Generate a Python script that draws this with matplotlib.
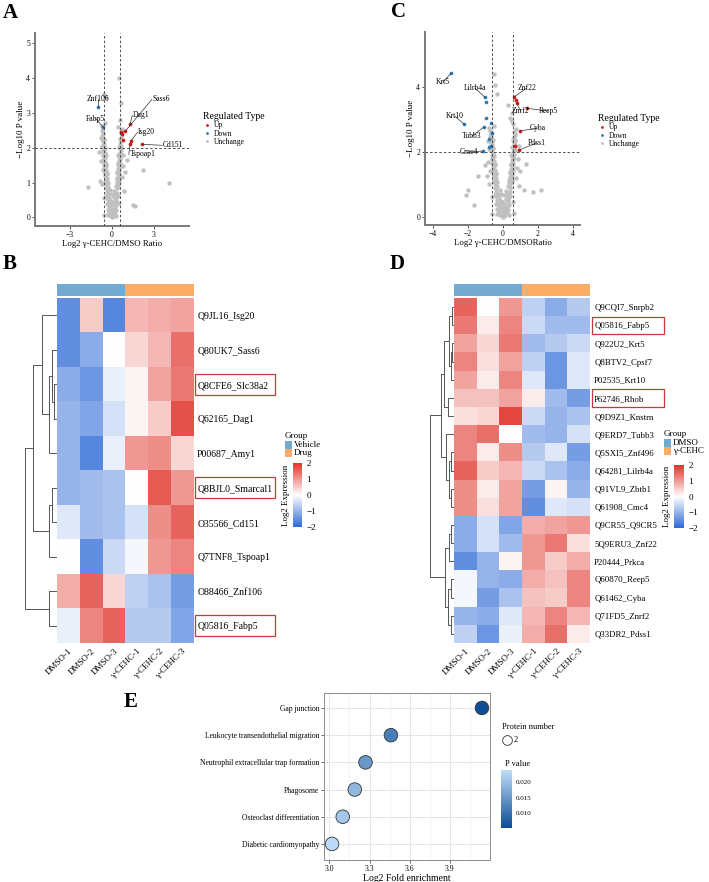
import numpy as np
import matplotlib
matplotlib.use('Agg')
import matplotlib.pyplot as plt
from matplotlib.colors import LinearSegmentedColormap, ListedColormap
from matplotlib.patches import Rectangle
from matplotlib.lines import Line2D
import matplotlib.cm as cm

plt.rcParams['font.family'] = ['Liberation Serif', 'DejaVu Serif']

# ---------------- data: volcano A ----------------
A_gray = [(0.00,0.01),(0.06,0.04),(-0.06,0.05),(0.12,0.09),(-0.11,0.10),(0.02,0.13),(0.17,0.17),(-0.16,0.18),
          (0.08,0.22),(-0.04,0.25),(0.21,0.27),(-0.21,0.29),(0.13,0.33),(-0.12,0.36),(0.25,0.39),(-0.26,0.41),
          (0.03,0.44),(0.29,0.48),(-0.30,0.50),(0.18,0.52),(-0.19,0.55),(0.33,0.58),(-0.33,0.60),(0.08,0.62),
          (0.24,0.66),(-0.25,0.68),(0.36,0.71),(-0.37,0.73),(0.15,0.76),(-0.14,0.78),(0.30,0.05),(-0.30,0.07),
          (-0.40,0.84),(-0.28,0.88),(-0.43,0.95),(-0.32,1.00),(-0.46,1.07),(-0.35,1.12),(-0.49,1.19),(-0.38,1.24),
          (-0.52,1.31),(-0.41,1.36),(-0.54,1.43),(-0.44,1.48),(-0.57,1.55),(-0.47,1.60),(-0.59,1.67),(-0.50,1.72),
          (-0.61,1.79),(-0.53,1.84),(-0.63,1.91),(-0.55,1.96),(-0.65,2.03),(-0.58,2.10),(-0.66,2.18),(-0.60,2.26),
          (-0.68,2.34),(-0.63,2.42),(-0.70,2.50),
          (0.40,0.86),(0.29,0.90),(0.44,0.97),(0.33,1.02),(0.47,1.09),(0.36,1.14),(0.50,1.21),(0.39,1.26),
          (0.53,1.33),(0.42,1.38),(0.55,1.45),(0.45,1.50),(0.58,1.57),(0.48,1.62),(0.60,1.69),(0.51,1.74),
          (0.62,1.81),(0.54,1.86),(0.64,1.93),(0.56,1.98),(0.66,2.05),(0.59,2.12),(0.67,2.20),(0.61,2.28),
          (0.69,2.36),(0.64,2.45),
          (-0.36,0.82),(-0.47,1.02),(-0.51,1.25),(-0.55,1.50),(-0.58,1.72),(-0.62,1.95),(-0.64,2.20),(-0.66,2.40),
          (-0.33,1.05),(-0.37,1.28),(-0.42,1.52),(-0.46,1.78),(-0.50,2.00),(-0.55,2.22),(0.36,0.84),(0.47,1.04),
          (0.51,1.28),(0.55,1.52),(0.58,1.75),(0.62,1.98),(0.64,2.22),(0.66,2.42),(0.33,1.07),(0.37,1.30),
          (0.42,1.55),(0.46,1.80),(0.50,2.02),(0.55,2.25),(0.10,0.05),(-0.15,0.06),(0.20,0.10),(-0.22,0.12),
          (0.28,0.20),(-0.28,0.22),(0.05,0.38),(-0.08,0.46),(0.32,0.35),(-0.34,0.38),(0.20,0.62),(-0.10,0.66),
          (0.40,0.60),(-0.42,0.62),
          (-0.72,0.95),(-0.66,1.35),(-0.78,1.62),(-0.74,2.05),(-0.80,2.28),(0.70,1.15),(0.76,1.48),(0.80,1.78),
          (0.72,2.55),(-0.72,2.62),(0.58,2.80),(-0.48,2.70),(0.45,2.60),(-0.55,0.55),(0.52,0.40),(-0.85,1.05),
          (0.88,0.75),(0.95,1.30),(1.05,1.65),(-0.95,1.88),
          (0.50,4.00),(-0.57,3.56),(-0.43,3.47),(-1.70,0.87),(2.20,1.35),(4.10,1.00),(1.50,0.35),(1.65,0.33),
          (-0.60,0.08),(0.62,3.30)]
A_up = [(0.64,2.44),(0.93,2.47),(1.29,2.67),(0.79,2.21),(1.36,2.20),(1.30,2.12),(2.14,2.10),(0.70,2.40)]
A_down = [(-1.00,3.17),(-0.64,2.59)]
# name, point, text position
A_labels = [('Sass6', (0.93,2.47), (2.90,3.39), 'left'),
            ('Dag1', (1.29,2.67), (1.50,2.93), 'left'),
            ('Isg20', (1.36,2.20), (1.86,2.44), 'left'),
            ('Cd151', (2.14,2.10), (3.64,2.07), 'left'),
            ('Tspoap1', (1.30,2.12), (1.25,1.81), 'left'),
            ('Znf106', (-1.00,3.17), (-1.00,3.39), 'center'),
            ('Fabp5', (-0.64,2.59), (-1.16,2.84), 'center')]

# ---------------- data: volcano C ----------------
C_gray = [(0.00,0.01),(0.07,0.04),(-0.07,0.05),(0.14,0.09),(-0.13,0.10),(0.02,0.14),(0.20,0.18),(-0.19,0.19),
          (0.09,0.23),(-0.05,0.27),(0.24,0.29),(-0.24,0.31),(0.15,0.35),(-0.14,0.38),(0.28,0.42),(-0.29,0.44),
          (0.03,0.47),(0.32,0.51),(-0.33,0.53),(0.20,0.56),(-0.21,0.59),(0.36,0.62),(-0.36,0.64),(0.09,0.66),
          (0.27,0.70),(-0.28,0.72),(0.39,0.76),(-0.40,0.78),(0.17,0.81),(-0.16,0.83),(0.33,0.06),(-0.33,0.08),
          (-0.43,0.90),(-0.31,0.94),(-0.46,1.01),(-0.35,1.07),(-0.49,1.14),(-0.38,1.20),(-0.52,1.27),(-0.41,1.33),
          (-0.55,1.40),(-0.44,1.46),(-0.57,1.53),(-0.47,1.59),(-0.60,1.66),(-0.50,1.72),(-0.62,1.79),(-0.53,1.85),
          (-0.64,1.92),(-0.56,1.98),(-0.66,2.05),(-0.58,2.11),(-0.68,2.18),(-0.61,2.25),(-0.69,2.33),(-0.63,2.41),
          (-0.71,2.49),(-0.66,2.57),(-0.73,2.65),
          (0.43,0.92),(0.32,0.96),(0.47,1.03),(0.36,1.09),(0.50,1.16),(0.39,1.22),(0.53,1.29),(0.42,1.35),
          (0.56,1.42),(0.45,1.48),(0.58,1.55),(0.48,1.61),(0.61,1.68),(0.51,1.74),(0.63,1.81),(0.54,1.87),
          (0.65,1.94),(0.57,2.00),(0.67,2.07),(0.59,2.14),(0.69,2.21),(0.62,2.29),(0.70,2.37),(0.64,2.45),
          (0.71,2.53),(0.66,2.61),
          (-0.39,0.88),(-0.50,1.08),(-0.54,1.32),(-0.58,1.58),(-0.61,1.82),(-0.65,2.08),(-0.67,2.30),(-0.69,2.52),
          (-0.36,1.12),(-0.40,1.36),(-0.45,1.62),(-0.49,1.88),(-0.53,2.12),(-0.58,2.36),(0.39,0.90),(0.50,1.10),
          (0.54,1.35),(0.58,1.60),(0.61,1.85),(0.65,2.10),(0.67,2.33),(0.69,2.55),(0.36,1.14),(0.40,1.38),
          (0.45,1.64),(0.49,1.90),(0.53,2.15),(0.58,2.38),(0.11,0.06),(-0.16,0.07),(0.22,0.11),(-0.24,0.13),
          (0.31,0.22),(-0.31,0.24),(0.06,0.41),(-0.09,0.50),(0.35,0.38),(-0.37,0.41),(0.22,0.67),(-0.11,0.71),
          (0.43,0.65),(-0.45,0.67),
          (-0.78,1.00),(-0.70,1.40),(-0.84,1.70),(-0.80,2.10),(-0.86,2.35),(0.76,1.20),(0.82,1.52),(0.86,1.80),
          (0.75,2.70),(-0.78,2.75),(0.60,2.85),(0.50,2.95),(-0.50,2.80),(-0.60,0.60),(0.56,0.45),(-0.90,1.25),
          (0.92,0.95),(1.00,1.40),(0.90,2.20),(-1.00,1.60),
          (-0.50,4.40),(-0.45,4.06),(0.50,3.20),(0.30,3.45),(0.40,3.05),(-0.30,3.80),(-1.42,1.26),(-2.00,0.83),
          (-2.10,0.68),(-1.65,0.37),(1.30,1.63),(1.20,0.83),(1.70,0.77),(2.16,0.83),(-0.62,0.10),(0.65,0.12)]
C_up = [(0.62,3.69),(0.74,3.60),(0.80,3.50),(1.36,3.35),(1.00,2.65),(0.93,2.06),(0.68,2.20)]
C_down = [(-2.95,4.43),(-1.02,3.69),(-0.97,3.54),(-0.97,3.05),(-2.20,2.86),(-1.08,2.77),(-0.63,2.58),
          (-0.78,2.40),(-0.80,2.15),(-0.68,2.18),(-1.14,2.03),(-0.66,2.90)]
C_labels = [('Krt5', (-2.95,4.43), (-3.41,4.15), 'center'),
            ('Lilrb4a', (-1.02,3.69), (-1.59,3.97), 'center'),
            ('Krt10', (-2.20,2.86), (-2.73,3.10), 'center'),
            ('Tubb3', (-1.08,2.77), (-1.76,2.49), 'center'),
            ('Cmc4', (-1.14,2.03), (-1.93,2.00), 'center'),
            ('Znf22', (0.62,3.69), (1.36,3.97), 'center'),
            ('Znrf2', (0.80,3.50), (1.02,3.26), 'center'),
            ('Reep5', (1.36,3.35), (2.60,3.26), 'center'),
            ('Cyba', (1.00,2.65), (2.00,2.74), 'center'),
            ('Pdss1', (0.93,2.06), (1.93,2.28), 'center')]

# ---------------- data: heatmap B ----------------
B_rows = ['Q9JL16_Isg20', 'Q80UK7_Sass6', 'Q8CFE6_Slc38a2', 'Q62165_Dag1', 'P00687_Amy1',
          'Q8BJL0_Smarcal1', 'O35566_Cd151', 'Q7TNF8_Tspoap1', 'O88466_Znf106', 'Q05816_Fabp5']
B_vals = [[-1.5, 0.5, -1.6, 0.7, 0.8, 0.9],
          [-1.5, -1.1, 0.0, 0.4, 0.7, 1.4],
          [-1.1, -1.4, -0.2, 0.1, 0.9, 1.3],
          [-1.0, -1.2, -0.4, 0.1, 0.5, 1.7],
          [-1.0, -1.6, -0.2, 1.0, 1.1, 0.4],
          [-1.0, -0.9, -0.8, 0.0, 1.6, 1.0],
          [-0.3, -0.9, -0.8, -0.4, 1.1, 1.5],
          [0.0, -1.5, -0.5, -0.1, 1.0, 1.2],
          [0.8, 1.5, 0.4, -0.6, -0.8, -1.3],
          [-0.2, 1.2, 1.5, -0.7, -0.7, -1.2]]
B_boxed = [2, 5, 9]
# merges (a, b, height)
B_tree = [(2, 3, 3), (1, 10, 5), (11, 4, 8), (0, 12, 15), (5, 6, 5), (14, 7, 8), (13, 15, 24), (8, 9, 8), (16, 17, 32)]

# ---------------- data: heatmap D ----------------
D_rows = ['Q9CQI7_Snrpb2', 'Q05816_Fabp5', 'Q922U2_Krt5', 'Q8BTV2_Cpsf7', 'P02535_Krt10', 'P62746_Rhob',
          'Q9D9Z1_Knstrn', 'Q9ERD7_Tubb3', 'Q5SXI5_Znf496', 'Q64281_Lilrb4a', 'Q91VL9_Zbtb1', 'Q61908_Cmc4',
          'Q9CR55_Q9CR5', '5Q9ERU3_Znf22', 'P20444_Prkca', 'Q60870_Reep5', 'Q61462_Cyba', 'Q71FD5_Znrf2',
          'Q33DR2_Pdss1']
D_vals = [[1.5, 0.0, 1.0, -0.6, -1.1, -0.7],
          [1.3, 0.2, 1.2, -0.5, -0.9, -0.9],
          [0.9, 0.4, 1.3, -0.9, -0.7, -0.5],
          [1.2, 0.3, 0.9, -0.6, -1.4, -0.3],
          [0.9, 0.2, 1.2, -0.3, -1.4, -0.3],
          [0.6, 0.6, 0.9, 0.2, -0.9, -1.3],
          [0.3, 0.4, 1.8, -0.5, -1.0, -0.8],
          [1.2, 1.4, 0.0, -0.9, -1.0, -0.4],
          [1.2, 0.2, 1.1, -0.7, -0.3, -1.3],
          [1.5, 0.5, 0.7, -0.5, -0.8, -1.1],
          [1.1, 0.2, 0.9, -1.3, 0.1, -1.0],
          [1.1, 0.3, 0.9, -1.5, -0.3, -0.4],
          [-1.1, -0.4, -1.2, 0.8, 0.9, 1.0],
          [-1.1, -0.4, -0.9, 1.0, 1.3, 0.3],
          [-1.5, -1.0, 0.1, 1.0, 0.5, 0.8],
          [-0.1, -1.0, -1.1, 0.8, 0.6, 1.2],
          [-0.1, -1.3, -0.8, 0.6, 0.5, 1.2],
          [-1.0, -1.1, -0.3, 0.7, 1.2, 0.7],
          [-0.6, -1.4, -0.2, 0.8, 1.4, 0.2]]
D_boxed = [1, 5]
D_tree = [(0, 1, 2), (2, 3, 2), (20, 4, 3), (19, 21, 5), (5, 6, 6), (22, 23, 10),
          (8, 9, 3), (10, 11, 3), (25, 26, 5), (7, 27, 8), (24, 28, 13),
          (12, 13, 3), (30, 14, 5), (15, 16, 3), (17, 18, 3), (32, 33, 6), (31, 34, 9), (29, 35, 24)]

samples = ['DMSO-1', 'DMSO-2', 'DMSO-3', 'γ-CEHC-1', 'γ-CEHC-2', 'γ-CEHC-3']
groups = [0, 0, 0, 1, 1, 1]

# ---------------- data: enrichment E ----------------
E_terms = ['Gap junction', 'Leukocyte transendothelial migration', 'Neutrophil extracellular trap formation',
           'Phagosome', 'Osteoclast differentiation', 'Diabetic cardiomyopathy']
E_fold = [4.14, 3.46, 3.27, 3.19, 3.10, 3.02]
E_pval = [0.0055, 0.0115, 0.0150, 0.0190, 0.0210, 0.0235]

# ---------------- figure ----------------
W, H = 709, 882
fig = plt.figure(figsize=(W / 100, H / 100), dpi=100)


def box(x0, y0, x1, y1):
    return [x0 / W, 1 - y1 / H, (x1 - x0) / W, (y1 - y0) / H]


def ftext(x, y, s, **kw):
    fig.text(x / W, 1 - y / H, s, **kw)


axis_gray = '#7a7a7a'


def volcano(rect, gray, up, down, labels, xlim, ylim, xticks, yticks, xlabel, leg_xy):
    ax = fig.add_axes(rect)
    g = np.array(gray)
    u = np.array(up)
    d = np.array(down)
    ax.scatter(g[:, 0], g[:, 1], s=10, color='#c0c0c0', lw=0, zorder=2)
    ax.scatter(u[:, 0], u[:, 1], s=7, color='#d7191c', lw=0, zorder=3)
    ax.scatter(d[:, 0], d[:, 1], s=7, color='#2c7bb6', lw=0, zorder=3)
    for xv in (-0.585, 0.585):
        ax.axvline(xv, color='#333333', lw=0.6, ls=(0, (3, 2.5)), zorder=4)
    ax.axhline(2, color='#333333', lw=0.6, ls=(0, (3, 2.5)), zorder=4)
    for name, (px, py), (tx, ty), ha in labels:
        ax.text(tx, ty, name, fontsize=5.5, ha=ha, va='center', zorder=5)
        ax.plot([px, tx if ha == 'center' else tx - 0.05], [py, ty], color='#333333', lw=0.5, zorder=4)
    ax.set_xlim(xlim)
    ax.set_ylim(ylim)
    ax.set_xticks(xticks)
    ax.set_yticks(yticks)
    ax.set_xticklabels(['\u2212' + str(-t) if t < 0 else str(t) for t in xticks])
    ax.tick_params(labelsize=5.5, length=2, width=0.6, color='#333333', pad=1.5)
    for sp in ('top', 'right'):
        ax.spines[sp].set_visible(False)
    for sp in ('left', 'bottom'):
        ax.spines[sp].set_color(axis_gray)
        ax.spines[sp].set_linewidth(1.4)
    ax.set_xlabel(xlabel, fontsize=6.3, labelpad=1)
    ax.set_ylabel('\u2212Log10 P value', fontsize=6.5, labelpad=1)
    handles = [Line2D([], [], ls='', marker='o', ms=2, color=c, mew=0)
               for c in ('#d7191c', '#2c7bb6', '#bdbdbd')]
    leg = ax.legend(handles, ['Up', 'Down', 'Unchange'], title='Regulated Type', frameon=False,
                    fontsize=5.5, title_fontsize=7, loc='upper left',
                    bbox_to_anchor=(leg_xy[0] / W, 1 - leg_xy[1] / H), bbox_transform=fig.transFigure,
                    handletextpad=0.4, labelspacing=0.05, borderpad=0, handlelength=1.0)
    leg._legend_box.align = 'left'
    return ax


volcano(box(35, 33, 189, 226), A_gray, A_up, A_down, A_labels, (-5.5, 5.5), (-0.25, 5.3),
        [-3, 0, 3], [0, 1, 2, 3, 4, 5], 'Log2 γ-CEHC/DMSO Ratio', (199, 108))
volcano(box(425, 32, 580, 225), C_gray, C_up, C_down, C_labels, (-4.43, 4.4), (-0.25, 5.7),
        [-4, -2, 0, 2, 4], [0, 2, 4], 'Log2 γ-CEHC/DMSORatio', (594, 110))

# ---------------- heatmaps ----------------
hm_cmap = LinearSegmentedColormap.from_list('hm', ['#2E69D6', '#ffffff', '#E0332B'])
grp_cmap = ListedColormap(['#74A9D0', '#FBAD66'])


def dendro(ax, tree, n, maxh):
    pos = {i: float(i) for i in range(n)}
    hgt = {i: 0.0 for i in range(n)}
    for k, (a, b, h) in enumerate(tree):
        ax.plot([hgt[a], h, h, hgt[b]], [pos[a], pos[a], pos[b], pos[b]], color='#555555', lw=0.7)
        pos[n + k] = (pos[a] + pos[b]) / 2
        hgt[n + k] = h
    ax.set_xlim(maxh, 0)
    ax.set_ylim(n - 0.5, -0.5)
    ax.axis('off')


def heatmap(x0, x1, y0, y1, rows, vals, boxed, tree, maxh, dx0, lab_size, box_x1, box_h,
            leg_names, leg_x, leg_y, cb_rect):
    n = len(rows)
    ax = fig.add_axes(box(x0, y0, x1, y1))
    ax.imshow(np.array(vals), cmap=hm_cmap, vmin=-2, vmax=2, aspect='auto', interpolation='nearest')
    ax.yaxis.tick_right()
    ax.set_yticks(range(n))
    ax.set_yticklabels(rows, fontsize=lab_size)
    ax.set_xticks(range(6))
    ax.set_xticklabels(samples, fontsize=6.5, rotation=45, ha='right', rotation_mode='anchor')
    ax.tick_params(length=0, pad=3)
    for sp in ax.spines.values():
        sp.set_visible(False)
    # label boxes
    bx0 = 5.5 + 1.5 / ((x1 - x0) / 6)
    bx1 = (box_x1 - x0) / ((x1 - x0) / 6) - 0.5
    for r in boxed:
        ax.add_patch(Rectangle((bx0, r - box_h / 2), bx1 - bx0, box_h, fill=False,
                               edgecolor='#C8383A', lw=0.9, clip_on=False))
    # group bar
    gax = fig.add_axes(box(x0, y0 - 14, x1, y0 - 2))
    gax.imshow(np.array([groups]), cmap=grp_cmap, aspect='auto', vmin=0, vmax=1)
    gax.axis('off')
    # dendrogram
    dax = fig.add_axes(box(dx0, y0, x0, y1))
    dendro(dax, tree, n, maxh)
    # group legend
    ftext(leg_x, leg_y, 'Group', fontsize=6.5, va='center')
    for i, nm in enumerate(leg_names):
        fig.add_artist(Rectangle(((leg_x) / W, 1 - (leg_y + 13 + 8 * i) / H), 7 / W, 8 / H,
                                 transform=fig.transFigure, color=grp_cmap(i), lw=0))
        ftext(leg_x + 9, leg_y + 9 + 8 * i, nm, fontsize=6.5, va='center')
    cax = fig.add_axes(box(*cb_rect))
    cb = fig.colorbar(cm.ScalarMappable(cmap=hm_cmap, norm=plt.Normalize(-2, 2)), cax=cax)
    cb.outline.set_visible(False)
    cb.set_ticks([-2, -1, 0, 1, 2])
    cb.ax.tick_params(labelsize=6.5, length=2, width=0.5, color='white', pad=1)
    cb.ax.set_yticklabels(['\u22122', '\u22121', '0', '1', '2'])
    ftext(cb_rect[0] - 7, (cb_rect[1] + cb_rect[3]) / 2, 'Log2 Expression', fontsize=6.5,
          rotation=90, ha='center', va='center')


heatmap(57, 193, 298, 643, B_rows, B_vals, B_boxed, B_tree, 34, 23, 7, 275, 0.62,
        ['Vehicle', 'Drug'], 285, 436, (293, 463, 302, 527))
heatmap(454, 590, 298, 643, D_rows, D_vals, D_boxed, D_tree, 26, 428, 6.3, 664, 0.96,
        ['DMSO', 'γ-CEHC'], 664, 434, (674, 465, 684, 528))

# ---------------- enrichment bubble plot ----------------
e_cmap = LinearSegmentedColormap.from_list('e', ['#0B4C96', '#BFDDF7'])
ax = fig.add_axes(box(324, 693, 490, 860))
ypos = np.arange(len(E_terms))[::-1]
ax.scatter(E_fold, ypos, s=95, c=E_pval, cmap=e_cmap, vmin=0.0052, vmax=0.0239,
           edgecolors='#333333', linewidths=0.6, zorder=3)
ax.set_xlim(2.96, 4.2)
ax.set_ylim(-0.59, 5.55)
ax.set_yticks(ypos)
ax.set_yticklabels(E_terms, fontsize=6.8)
ax.set_xticks([3.0, 3.3, 3.6, 3.9])
ax.set_xticks([3.15, 3.45, 3.75, 4.05], minor=True)
ax.grid(True, which='major', color='#E5E5E5', lw=0.7)
ax.grid(True, which='minor', axis='x', color='#F0F0F0', lw=0.5)
ax.set_axisbelow(True)
ax.tick_params(labelsize=5.5, length=2, width=0.5, color='#333333', pad=1.5)
ax.tick_params(which='minor', length=0)
for sp in ax.spines.values():
    sp.set_color('#8c8c8c')
    sp.set_linewidth(0.7)
ax.set_xlabel('Log2 Fold enrichment', fontsize=7, labelpad=1)

ftext(502, 727, 'Protein number', fontsize=6, va='center')
fig.add_artist(Line2D([507 / W], [1 - 740 / H], ls='', marker='o', ms=7, mfc='white', mec='#333333',
                      mew=0.6, transform=fig.transFigure))
ftext(514, 740, '2', fontsize=6, va='center')
ftext(505, 764, 'P value', fontsize=6, va='center')
cax = fig.add_axes(box(501, 770, 512, 828))
cb = fig.colorbar(cm.ScalarMappable(cmap=e_cmap, norm=plt.Normalize(0.0052, 0.0239)), cax=cax)
cb.outline.set_visible(False)
cb.set_ticks([0.010, 0.015, 0.020])
cb.ax.set_yticklabels(['0.010', '0.015', '0.020'])
cb.ax.tick_params(labelsize=5, length=2, width=0.5, color='white', pad=1)

# panel letters
for letter, (x, y) in zip('ABCDE', [(10, 13), (10, 264), (398, 12), (397, 264), (131, 702)]):
    ftext(x, y, letter, fontsize=15, fontweight='bold', ha='center', va='center')

fig.savefig('out.png', dpi=100)
